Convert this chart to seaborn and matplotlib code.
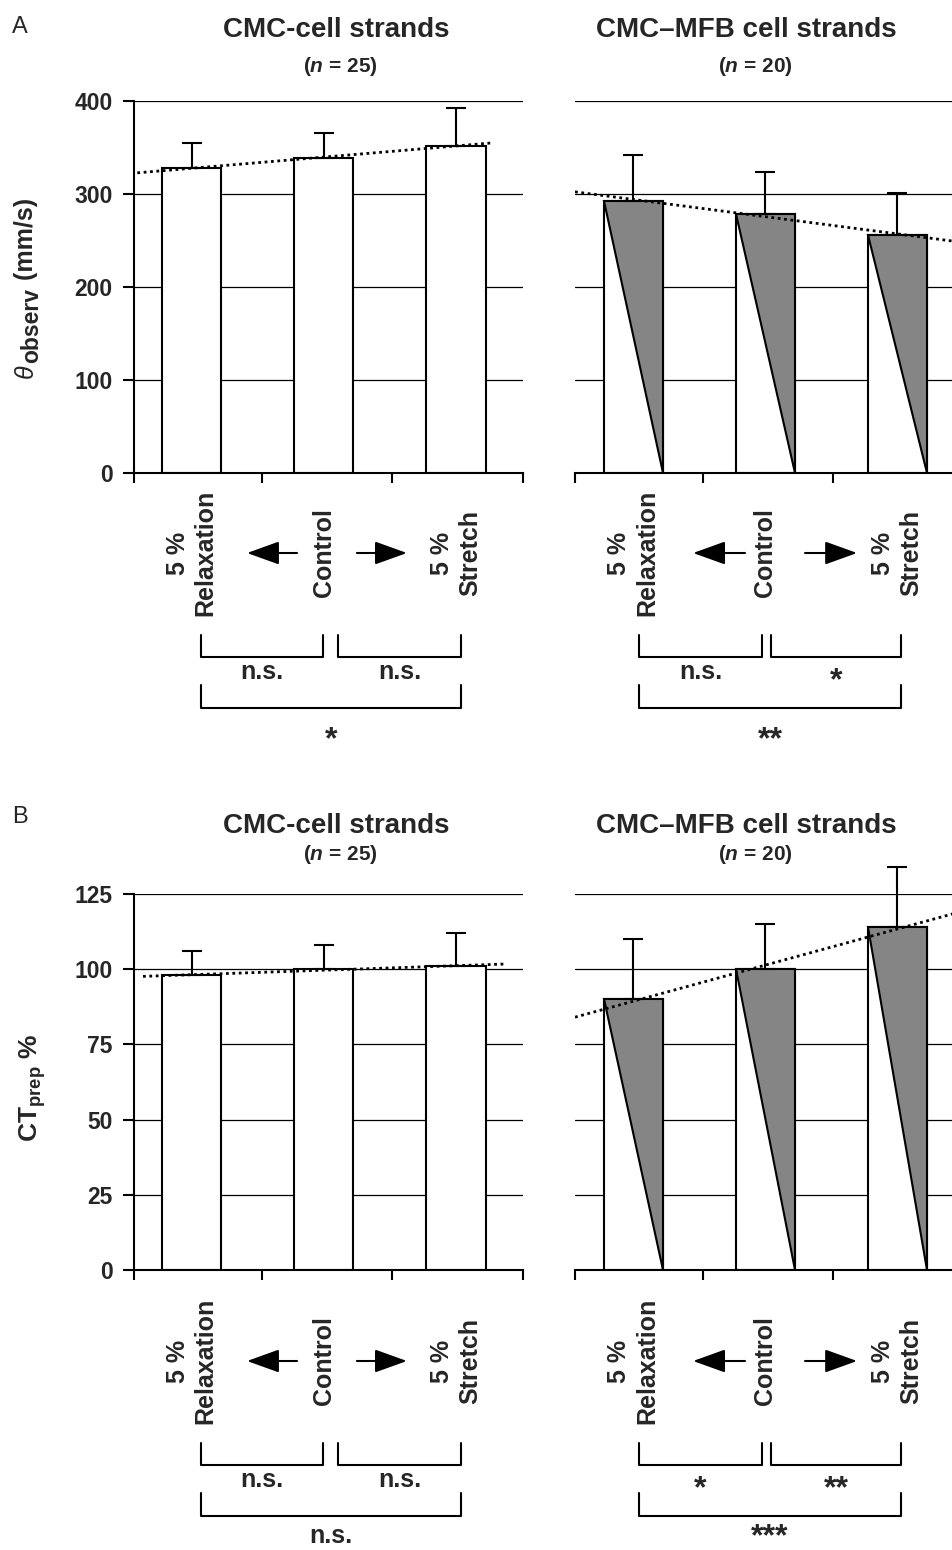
import numpy as np
import pandas as pd
import matplotlib
matplotlib.use('Agg')
import matplotlib.pyplot as plt
import matplotlib.transforms as mtransforms
import seaborn as sns

# ---------------- data ----------------
conditions = ['5 %\nRelaxation', 'Control', '5 %\nStretch']
group_titles = ['CMC-cell strands', 'CMC\u2013MFB cell strands']
group_n = ['25', '20']

velocity_cmc = [328, 339, 352]
velocity_cmc_sd = [27, 27, 40]
velocity_mfb = [293, 278, 256]
velocity_mfb_sd = [49, 46, 45]

ctprep_cmc = [98, 100, 101]
ctprep_cmc_sd = [8, 8, 11]
ctprep_mfb = [90, 100, 114]
ctprep_mfb_sd = [20, 15, 20]

yticks_velocity = [0, 100, 200, 300, 400]
yticks_ctprep = [0, 25, 50, 75, 100, 125]

# significance: [relax vs control, control vs stretch, relax vs stretch]
sig_velocity_cmc = ['n.s.', 'n.s.', '*']
sig_velocity_mfb = ['n.s.', '*', '**']
sig_ctprep_cmc = ['n.s.', 'n.s.', 'n.s.']
sig_ctprep_mfb = ['*', '**', '***']

# ---------------- style ----------------
sns.set_style('white')
plt.rcParams['font.family'] = ['Liberation Sans', 'DejaVu Sans']
plt.rcParams['mathtext.fontset'] = 'custom'
plt.rcParams['mathtext.rm'] = 'Liberation Sans:bold'
plt.rcParams['mathtext.bf'] = 'Liberation Sans:bold'
plt.rcParams['mathtext.it'] = 'Liberation Sans:italic:bold'

W, H = 953, 1550
fig = plt.figure(figsize=(W / 100, H / 100), dpi=100)
fig.patch.set_facecolor('white')


def fy(p):
    return 1 - p / H


def add_ax(l, t, r, b):
    return fig.add_axes([l / W, 1 - b / H, (r - l) / W, (b - t) / H])


GRAY = '#858585'
LW = 1.5

cols = [
    dict(l=134, r=523, xlim=(-0.435, 2.507), xticks=[-0.435, 0.533, 1.516, 2.507],
         shaded=False, title_x=336, n_x=340, bar_w=0.45,
         brackets=[(0.072, 0.994), (1.108, 2.038), (0.072, 2.038)],
         arrows=[(0.798, 0.42), (1.251, 1.629)]),
    dict(l=575, r=953, xlim=(-0.44, 2.424), xticks=[-0.44, 0.53, 1.515],
         shaded=True, title_x=746, n_x=755, bar_w=0.447,
         brackets=[(0.045, 0.977), (1.045, 2.03), (0.045, 2.03)],
         arrows=[(0.848, 0.455), (1.303, 1.697)]),
]

rows = [
    dict(top=101, bottom=473, off=0, toff=0, letter='A', letter_y=33,
         yticks=yticks_velocity,
         series=[(velocity_cmc, velocity_cmc_sd, sig_velocity_cmc),
                 (velocity_mfb, velocity_mfb_sd, sig_velocity_mfb)],
         trend=[(-0.41, 2.27), None], star2=748),
    dict(top=894, bottom=1270, off=808, toff=796, letter='B', letter_y=823,
         yticks=yticks_ctprep,
         series=[(ctprep_cmc, ctprep_cmc_sd, sig_ctprep_cmc),
                 (ctprep_mfb, ctprep_mfb_sd, sig_ctprep_mfb)],
         trend=[(-0.367, 2.37), None], star2=737),
]

for row in rows:
    off = row['off']
    toff = row['toff']
    fig.text(12 / W, fy(row['letter_y']), row['letter'], fontsize=17,
             ha='left', va='baseline')
    for ci, col in enumerate(cols):
        vals, sds, sigs = row['series'][ci]
        ax = add_ax(col['l'], row['top'], col['r'], row['bottom'])
        df = pd.DataFrame({'condition': conditions, 'value': vals})
        sns.barplot(data=df, x='condition', y='value', ax=ax, color='white',
                    saturation=1, edgecolor='black', linewidth=LW, width=col['bar_w'],
                    errorbar=None, zorder=2)
        if col['shaded']:
            for patch in list(ax.patches):
                x0 = patch.get_x()
                w = patch.get_width()
                h = patch.get_height()
                ax.fill([x0, x0 + w, x0 + w], [h, h, 0], facecolor=GRAY,
                        edgecolor='black', linewidth=LW, zorder=3)
        xs = np.arange(len(vals))
        cont = ax.errorbar(xs, vals, yerr=[np.zeros(len(vals)), sds], fmt='none',
                           ecolor='black', elinewidth=LW, capsize=7, capthick=LW,
                           zorder=4)
        for art in list(cont.lines[1]) + list(cont.lines[2]):
            art.set_clip_on(False)
        # linear trend of means
        coef = np.polyfit(xs, vals, 1)
        tx = row['trend'][ci] if row['trend'][ci] is not None else col['xlim']
        tx = np.array(tx)
        ax.plot(tx, np.polyval(coef, tx), color='black', linestyle=(0, (1, 1.3)),
                linewidth=2.0, zorder=5)

        # axes styling
        yt = row['yticks']
        ax.set_ylim(0, yt[-1])
        ax.set_yticks(yt)
        ax.yaxis.grid(True, color='black', linewidth=0.9)
        ax.xaxis.grid(False)
        ax.set_axisbelow(True)
        ax.set_xlabel('')
        ax.set_ylabel('')
        for s in ['top', 'right']:
            ax.spines[s].set_visible(False)
        ax.spines['bottom'].set_linewidth(LW)
        ax.spines['bottom'].set_color('black')
        ax.set_xticks(col['xticks'])
        ax.set_xticklabels([])
        ax.tick_params(axis='x', bottom=True, length=7, width=LW, color='black',
                       direction='out')
        if ci == 0:
            ax.spines['left'].set_linewidth(LW)
            ax.spines['left'].set_color('black')
            ax.tick_params(axis='y', left=True, length=8, width=LW, color='black',
                           labelsize=16.5, pad=7.5, direction='out')
            for lbl in ax.get_yticklabels():
                lbl.set_fontweight('bold')
        else:
            ax.spines['left'].set_visible(False)
            ax.tick_params(axis='y', left=False, labelleft=False)

        # titles
        fig.text(col['title_x'] / W, fy(37 + toff), group_titles[ci], fontsize=20,
                 fontweight='bold', ha='center', va='baseline')
        fig.text(col['n_x'] / W, fy(72 + toff - (8 if toff else 0)),
                 '($n$ = %s)' % group_n[ci], fontsize=15, fontweight='bold',
                 ha='center', va='baseline')

        blend = mtransforms.blended_transform_factory(ax.transData, fig.transFigure)
        # category labels
        for i, c in enumerate(conditions):
            ax.text(i, fy(553 + off), c, rotation=90, ha='center', va='center',
                    multialignment='center', fontsize=18, fontweight='bold',
                    linespacing=1.2, transform=blend, clip_on=False)
        # arrows
        for (xt, xh) in col['arrows']:
            ax.annotate('', xy=(xh, fy(553 + off)), xytext=(xt, fy(553 + off)),
                        xycoords=blend, textcoords=blend, annotation_clip=False,
                        arrowprops=dict(arrowstyle='-|>,head_length=2.0,head_width=0.72',
                                        mutation_scale=10, lw=LW, color='black',
                                        shrinkA=0, shrinkB=0))
        # brackets
        levels = [(635, 657, 679, 689), (635, 657, 679, 689),
                  (685, 708, 735, row['star2'])]
        for (x0, x1), (yt0, yb0, ybase_ns, ybase_star), sig in zip(col['brackets'], levels, sigs):
            ax.plot([x0, x0, x1, x1],
                    [fy(yt0 + off), fy(yb0 + off), fy(yb0 + off), fy(yt0 + off)],
                    transform=blend, color='black', linewidth=LW, clip_on=False)
            star = sig.startswith('*')
            ax.text((x0 + x1) / 2, fy((ybase_star if star else ybase_ns) + off), sig,
                    ha='center', va='baseline', fontsize=23 if star else 18,
                    fontweight='bold', transform=blend, clip_on=False)
        ax.set_xlim(*col['xlim'])

# ---------------- y labels ----------------
renderer = fig.canvas.get_renderer()


def chain(parts, x0, y0):
    """Place rotated text pieces one after another going upward."""
    ycur = H - y0  # display coords from bottom
    for txt, xoff, kw in parts:
        t = fig.text((x0 + xoff) / W, ycur / H, txt, rotation=90,
                     rotation_mode='anchor', ha='left', va='baseline', **kw)
        bb = t.get_window_extent(renderer)
        ycur = bb.y1 + 1


chain([('\u03b8', 0, dict(fontsize=18, fontstyle='italic')),
       ('observ', 5, dict(fontsize=16.5, fontweight='bold')),
       (' (mm/s)', 0, dict(fontsize=18, fontweight='bold'))], 33, 378)

fig.text(33 / W, fy(1088), r'CT$_{\mathbf{prep}}$ %', rotation=90, ha='center',
         va='center', fontsize=19, fontweight='bold')

fig.savefig('out.png', dpi=100, facecolor='white')
